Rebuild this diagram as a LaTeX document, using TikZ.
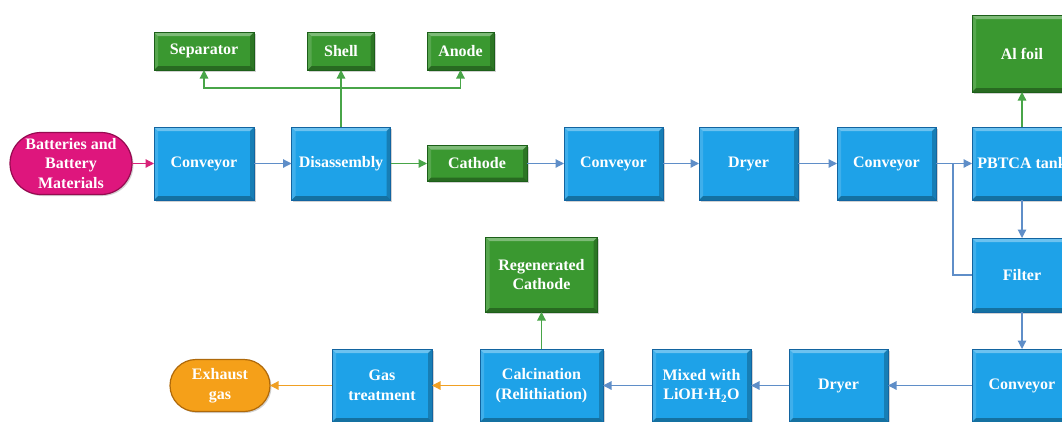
\documentclass[tikz,border=0pt]{standalone}
\usepackage{fontspec}
\setmainfont{Liberation Serif}
\usetikzlibrary{arrows.meta,shadows}
\definecolor{cblue}{RGB}{30,162,232}
\definecolor{cblueD}{RGB}{18,100,160}
\definecolor{cgreen}{RGB}{58,152,48}
\definecolor{cgreenD}{RGB}{28,95,25}
\definecolor{cpink}{RGB}{222,22,125}
\definecolor{cpinkD}{RGB}{150,10,80}
\definecolor{corange}{RGB}{245,160,25}
\definecolor{corangeD}{RGB}{175,105,10}
\definecolor{lblue}{RGB}{95,142,200}
\definecolor{lgreen}{RGB}{72,165,72}
\definecolor{lpink}{RGB}{215,35,120}
\definecolor{lorange}{RGB}{240,160,35}
\tikzset{
  bevel/.style={path picture={
    \fill[white,opacity=.35] (path picture bounding box.north west) -- (path picture bounding box.north east) -- ([shift={(-4pt,-4pt)}]path picture bounding box.north east) -- ([shift={(4pt,-4pt)}]path picture bounding box.north west) -- cycle;
    \fill[white,opacity=.15] (path picture bounding box.north west) -- (path picture bounding box.south west) -- ([shift={(4pt,4pt)}]path picture bounding box.south west) -- ([shift={(4pt,-4pt)}]path picture bounding box.north west) -- cycle;
    \fill[black,opacity=.22] (path picture bounding box.north east) -- (path picture bounding box.south east) -- ([shift={(-4pt,4pt)}]path picture bounding box.south east) -- ([shift={(-4pt,-4pt)}]path picture bounding box.north east) -- cycle;
    \fill[black,opacity=.3] (path picture bounding box.south west) -- (path picture bounding box.south east) -- ([shift={(-4pt,4pt)}]path picture bounding box.south east) -- ([shift={(4pt,4pt)}]path picture bounding box.south west) -- cycle;
  }},
  basebox/.style={rectangle, line width=0.6pt, text=white, align=center,
    font=\bfseries\fontsize{16}{19.5}\selectfont, inner sep=1pt, outer sep=0pt,
    drop shadow={shadow xshift=1.5pt, shadow yshift=-1.5pt, opacity=.35}},
  bbox/.style={basebox, bevel, fill=cblue, draw=cblueD},
  gbox/.style={basebox, bevel, fill=cgreen, draw=cgreenD},
  pbox/.style={basebox, fill=cpink, draw=cpinkD, line width=1.2pt},
  obox/.style={basebox, fill=corange, draw=corangeD, line width=1.2pt},
  arr/.style={-{Triangle[length=8.5pt,width=8.5pt]}, line width=1.2pt},
  ablue/.style={arr, draw=lblue},
  agreen/.style={arr, draw=lgreen},
  apink/.style={arr, draw=lpink},
  aorange/.style={arr, draw=lorange},
  lineblue/.style={line width=1.2pt, draw=lblue}
}
\begin{document}
\begin{tikzpicture}[x=1pt,y=-1pt]
\clip (0,0) rectangle (1062,421);
\fill[white] (0,0) rectangle (1062,421);
% top row
\node[pbox, minimum width=122pt, minimum height=62pt, rounded corners=31pt] (bat) at (71,163.5) {Batteries and\\Battery\\Materials};
\node[bbox, minimum width=100pt, minimum height=73pt] (conv1) at (204,163.5) {Conveyor};
\node[bbox, minimum width=99pt, minimum height=73pt] (dis) at (341,163.5) {Disassembly};
\node[gbox, minimum width=100pt, minimum height=36pt] (cath) at (477,163.5) {Cathode};
\node[gbox, minimum width=100pt, minimum height=38pt] (sep) at (204,51) {Separator};
\node[gbox, minimum width=67pt, minimum height=38pt] (shell) at (341,51) {Shell};
\node[gbox, minimum width=67pt, minimum height=38pt] (anode) at (460.5,51) {Anode};
\node[bbox, minimum width=99pt, minimum height=73pt] (conv2) at (613.5,163.5) {Conveyor};
\node[bbox, minimum width=99pt, minimum height=73pt] (dry1) at (748.5,163.5) {Dryer};
\node[bbox, minimum width=99pt, minimum height=73pt] (conv3) at (886.5,163.5) {Conveyor};
\node[bbox, minimum width=100pt, minimum height=73pt] (pbtca) at (1022,163.5) {PBTCA tank};
\node[gbox, minimum width=100pt, minimum height=77pt] (alfoil) at (1022,53.5) {Al foil};
\node[bbox, minimum width=100pt, minimum height=74pt] (filter) at (1022,275) {Filter};
% bottom row
\node[bbox, minimum width=100pt, minimum height=73pt] (conv4) at (1022,385.5) {Conveyor};
\node[bbox, minimum width=99pt, minimum height=73pt] (dry2) at (838.5,385.5) {Dryer};
\node[bbox, minimum width=99pt, minimum height=73pt] (mix) at (701.5,385.5) {Mixed with\\LiOH·H\textsubscript{2}O};
\node[bbox, minimum width=123pt, minimum height=73pt] (calc) at (541.5,385.5) {Calcination\\(Relithiation)};
\node[gbox, minimum width=112pt, minimum height=75pt] (regen) at (541.5,274.5) {Regenerated\\Cathode};
\node[bbox, minimum width=100pt, minimum height=73pt] (gas) at (382,385.5) {Gas\\treatment};
\node[obox, minimum width=100pt, minimum height=52pt, rounded corners=26pt] (exh) at (220,385.5) {Exhaust\\gas};
% connectors
\coordinate (br) at (341,88);
\coordinate (jn) at (953,163.5);
\draw[apink] (bat.east) -- (conv1.west);
\draw[ablue] (conv1.east) -- (dis.west);
\draw[agreen] (dis.east) -- (cath.west);
\draw[agreen] (dis.north) -- (shell.south);
\draw[agreen] (br) -| (sep.south);
\draw[agreen] (br) -| (anode.south);
\draw[ablue] (cath.east) -- (conv2.west);
\draw[ablue] (conv2.east) -- (dry1.west);
\draw[ablue] (dry1.east) -- (conv3.west);
\draw[ablue] (conv3.east) -- (pbtca.west);
\draw[agreen] (pbtca.north) -- (alfoil.south);
\draw[ablue] (pbtca.south) -- (filter.north);
\draw[lineblue] (filter.west) -| (jn);
\draw[ablue] (filter.south) -- (conv4.north);
\draw[ablue] (conv4.west) -- (dry2.east);
\draw[ablue] (dry2.west) -- (mix.east);
\draw[ablue] (mix.west) -- (calc.east);
\draw[agreen] (calc.north) -- (regen.south);
\draw[aorange] (calc.west) -- (gas.east);
\draw[aorange] (gas.west) -- (exh.east);
\end{tikzpicture}
\end{document}
